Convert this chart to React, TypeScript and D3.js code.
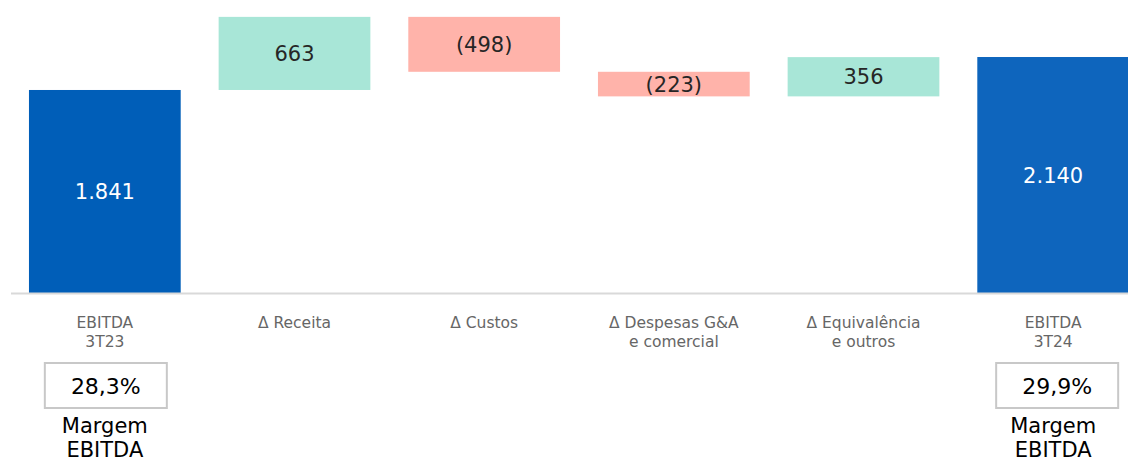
import React, { useEffect, useRef } from "react";
import * as d3 from "d3";

const categories = ["EBITDA 3T23", "Δ Receita", "Δ Custos", "Δ Despesas G&A e comercial", "Δ Equivalência e outros", "EBITDA 3T24"];
const labelLines = [["EBITDA", "3T23"], ["Δ Receita"], ["Δ Custos"], ["Δ Despesas G&A", "e comercial"], ["Δ Equivalência", "e outros"], ["EBITDA", "3T24"]];
const values = [1841, 663, -498, -223, 356, 2140];
const kinds = ["total", "delta", "delta", "delta", "delta", "total"];
const valueLabels = ["1.841", "663", "(498)", "(223)", "356", "2.140"];
const margins = [
  { index: 0, label: "28,3%", dx: 1 },
  { index: 5, label: "29,9%", dx: 4 },
];

const W = 1128;
const H = 461;
const FONT = "'DejaVu Sans', Verdana, sans-serif";

const App = () => {
  const svgRef = useRef<SVGSVGElement>(null);

  useEffect(() => {
    const svg = d3.select(svgRef.current);
    svg.selectAll("*").remove();

    // running waterfall positions
    let run = 0;
    const bars = values.map((v, i) => {
      let y0, y1;
      if (kinds[i] === "total") {
        y0 = 0;
        y1 = v;
        run = v;
      } else {
        y0 = run;
        y1 = run + v;
        run = y1;
      }
      return { cat: categories[i], v, y0, y1, kind: kinds[i], i };
    });

    const x = d3.scaleBand().domain(categories).range([10, 1148]).paddingInner(0.2).paddingOuter(0.1);
    const y = d3.scaleLinear().domain([0, 2657]).range([293, 0]);

    const colorOf = (d) => {
      if (d.i === 0) return "#005EB8";
      if (d.kind === "total") return "#0E65BD";
      return d.v >= 0 ? "#A8E6D7" : "#FFB3AA";
    };

    svg
      .selectAll("rect.bar")
      .data(bars)
      .join("rect")
      .attr("class", "bar")
      .attr("x", (d) => x(d.cat))
      .attr("width", x.bandwidth())
      .attr("y", (d) => y(Math.max(d.y0, d.y1)))
      .attr("height", (d) => Math.abs(y(d.y0) - y(d.y1)))
      .attr("fill", colorOf);

    svg
      .append("line")
      .attr("x1", 11)
      .attr("x2", W)
      .attr("y1", 293.5)
      .attr("y2", 293.5)
      .attr("stroke", "#d9d9d9")
      .attr("stroke-width", 2);

    svg
      .selectAll("text.val")
      .data(bars)
      .join("text")
      .attr("class", "val")
      .attr("x", (d) => x(d.cat) + x.bandwidth() / 2)
      .attr("y", (d) => (y(d.y0) + y(d.y1)) / 2 + 7.5)
      .attr("text-anchor", "middle")
      .attr("font-family", FONT)
      .attr("font-size", 21)
      .attr("fill", (d) => (d.kind === "total" ? "#ffffff" : "#262626"))
      .text((d) => valueLabels[d.i]);

    const cats = svg
      .selectAll("text.cat")
      .data(bars)
      .join("text")
      .attr("class", "cat")
      .attr("text-anchor", "middle")
      .attr("font-family", FONT)
      .attr("font-size", 15.5)
      .attr("fill", "#666666");
    cats
      .selectAll("tspan")
      .data((d) => labelLines[d.i].map((t) => ({ t, cx: x(d.cat) + x.bandwidth() / 2 })))
      .join("tspan")
      .attr("x", (t) => t.cx)
      .attr("y", (t, j) => 328 + j * 19)
      .text((t) => t.t);

    margins.forEach((m) => {
      const cx = x(categories[m.index]) + x.bandwidth() / 2;
      const bx = cx + m.dx;
      svg
        .append("rect")
        .attr("x", bx - 61)
        .attr("y", 363)
        .attr("width", 122)
        .attr("height", 45)
        .attr("fill", "#ffffff")
        .attr("stroke", "#c8c8c8")
        .attr("stroke-width", 2);
      svg
        .append("text")
        .attr("x", bx)
        .attr("y", 394)
        .attr("text-anchor", "middle")
        .attr("font-family", FONT)
        .attr("font-size", 22)
        .attr("fill", "#000000")
        .text(m.label);
      ["Margem", "EBITDA"].forEach((t, j) => {
        svg
          .append("text")
          .attr("x", cx)
          .attr("y", 433 + j * 24)
          .attr("text-anchor", "middle")
          .attr("font-family", FONT)
          .attr("font-size", 21)
          .attr("fill", "#000000")
          .text(t);
      });
    });
  }, []);

  return (
    <div style={{ position: "absolute", left: 0, top: 0, width: W, height: H, overflow: "hidden", background: "#fff" }}>
      <svg ref={svgRef} width={W} height={H}></svg>
    </div>
  );
};

export default App;
